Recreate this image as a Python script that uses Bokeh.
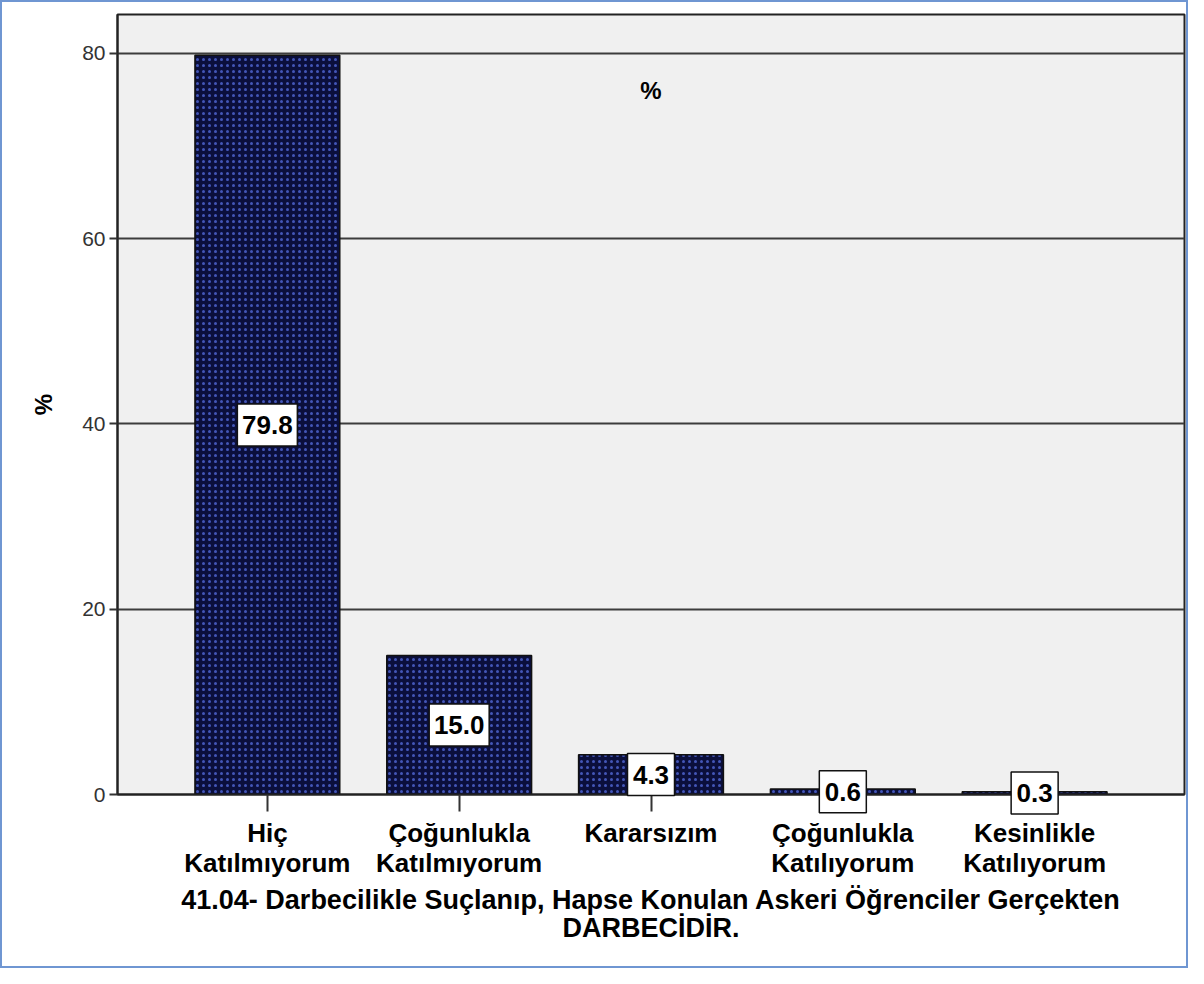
from bokeh.plotting import figure
from bokeh.models import ColumnDataSource, FactorRange
from bokeh.core.properties import value
from bokeh.embed import file_html
from bokeh.resources import INLINE

categories = ["Hiç\nKatılmıyorum", "Çoğunlukla\nKatılmıyorum", "Kararsızım",
              "Çoğunlukla\nKatılıyorum", "Kesinlikle\nKatılıyorum"]
percents = [79.8, 15.0, 4.3, 0.6, 0.3]
y_ticks = [0, 20, 40, 60, 80]
x_title = "41.04- Darbecilikle Suçlanıp, Hapse Konulan Askeri Öğrenciler Gerçekten\nDARBECİDİR."

FONT = "Liberation Sans"

txt = ["{:.1f}".format(v) for v in percents]
src = ColumnDataSource(dict(
    cat=categories,
    val=percents,
    mid=[v / 2 for v in percents],
    txt=txt,
    boxw=[13 * len(t) + 8 for t in txt],
))

p = figure(
    width=1188, height=968,
    x_range=FactorRange(factors=categories, range_padding=0.1125, range_padding_units="percent"),
    y_range=(0, 84.2),
    output_backend="svg", toolbar_location=None,
    min_border_left=115, min_border_top=12, min_border_right=6, min_border_bottom=176,
)
p.styles = {"border": "2px solid #6f96d2", "box-sizing": "border-box"}
p.background_fill_color = "#f0f0f0"
p.border_fill_color = "white"
p.outline_line_color = "#222222"
p.outline_line_width = 2

p.vbar(x="cat", top="val", width=0.755, source=src,
       fill_color="#0b0f3c", line_color="#111111", line_width=1.5,
       hatch_pattern="dot", hatch_color="#4356b8", hatch_scale=6, hatch_weight=2.2)

# value boxes, drawn on the overlay level so they may cross the frame edge
p.rect(x="cat", y="mid", width="boxw", height=42, width_units="screen", height_units="screen",
       source=src, fill_color="white", line_color="#111111", line_width=1.5, level="overlay")
p.text(x="cat", y="mid", text="txt", source=src, text_align="center", text_baseline="middle",
       text_font=value(FONT), text_font_style="bold", text_font_size="26px", text_color="black",
       level="overlay")

p.text(x=[categories[2]], y=[76], text=["%"], text_align="center", text_baseline="middle",
       text_font=value(FONT), text_font_style="bold", text_font_size="24px", text_color="black")

# grid
p.xgrid.grid_line_color = None
p.ygrid.ticker = y_ticks[1:]
p.ygrid.grid_line_color = "#3c3c3c"
p.ygrid.grid_line_width = 2

# y axis
p.yaxis.ticker = y_ticks
p.yaxis.minor_tick_line_color = None
p.yaxis.major_tick_in = 0
p.yaxis.major_tick_out = 8
p.yaxis.major_tick_line_color = "#333333"
p.yaxis.major_tick_line_width = 2
p.yaxis.axis_line_color = "#222222"
p.yaxis.axis_line_width = 2
p.yaxis.major_label_text_font = FONT
p.yaxis.major_label_text_font_size = "21px"
p.yaxis.major_label_text_color = "#333333"
p.yaxis.major_label_standoff = 4
p.yaxis.axis_label = "%"
p.yaxis.axis_label_text_font = FONT
p.yaxis.axis_label_text_font_style = "bold"
p.yaxis.axis_label_text_font_size = "24px"
p.yaxis.axis_label_text_color = "black"
p.yaxis.axis_label_standoff = 22

# x axis
p.xaxis.axis_line_color = "#222222"
p.xaxis.axis_line_width = 2
p.xaxis.major_tick_in = 0
p.xaxis.major_tick_out = 17
p.xaxis.major_tick_line_color = "#333333"
p.xaxis.major_tick_line_width = 2
p.xaxis.minor_tick_line_color = None
p.xaxis.major_label_text_font = FONT
p.xaxis.major_label_text_font_style = "bold"
p.xaxis.major_label_text_font_size = "26px"
p.xaxis.major_label_text_color = "black"
p.xaxis.major_label_text_line_height = 1.0
p.xaxis.major_label_standoff = 6
p.xaxis.major_label_orientation = "horizontal"
p.xaxis.axis_label = x_title
p.xaxis.axis_label_text_font = FONT
p.xaxis.axis_label_text_font_style = "bold"
p.xaxis.axis_label_text_font_size = "27px"
p.xaxis.axis_label_text_color = "black"
p.xaxis.axis_label_text_line_height = 0.95
p.xaxis.axis_label_standoff = 4

open("out.html", "w").write(file_html(p, INLINE))
